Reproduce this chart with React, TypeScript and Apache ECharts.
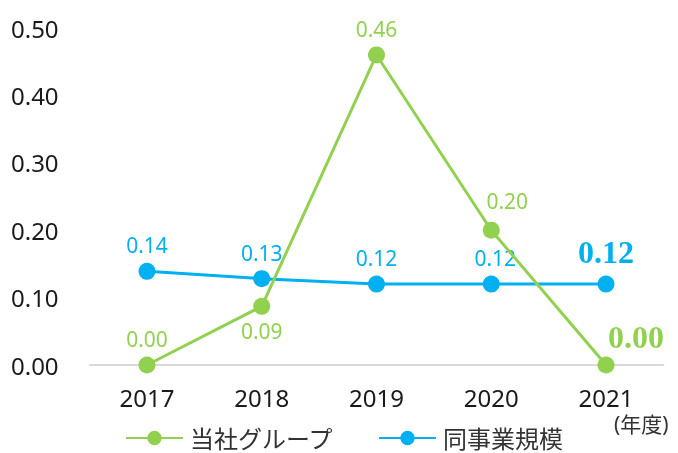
import React, { useEffect, useRef } from "react";
import * as echarts from "echarts";

const years = ["2017", "2018", "2019", "2020", "2021"];
const groupValues = [0.0, 0.087, 0.46, 0.2, 0.0];
const peerValues = [0.139, 0.128, 0.12, 0.12, 0.12];
const groupName = "当社グループ";
const peerName = "同事業規模";

const GREEN = "#92D050";
const BLUE = "#00B0F0";
const FONT = "'Noto Sans', 'Noto Sans CJK JP', sans-serif";

export default function App() {
  const ref = useRef<HTMLDivElement>(null);
  useEffect(() => {
    if (!ref.current) return;
    const chart = echarts.init(ref.current, undefined, { renderer: "svg" });
    const last = years.length - 1;
    const groupData = groupValues.map((v, i) => {
      const item: any = { value: v };
      if (i === 1) item.label = { position: "bottom", distance: 6 };
      if (i === 3) item.label = { offset: [16, -3] };
      if (i === last)
        item.label = {
          fontFamily: "'Liberation Serif', serif",
          fontWeight: "bold",
          fontSize: 32,
          distance: 8,
          offset: [30, 4],
        };
      return item;
    });
    const peerData = peerValues.map((v, i) => {
      const item: any = { value: v };
      if (i === 3) item.label = { offset: [4, 0] };
      if (i === last)
        item.label = {
          fontFamily: "'Liberation Serif', serif",
          fontWeight: "bold",
          fontSize: 32,
          distance: 8,
          offset: [0, 0],
        };
      return item;
    });
    chart.setOption({
      animation: false,
      textStyle: { fontFamily: FONT },
      grid: { left: 89.6, right: 14.6, top: 28, bottom: 88, containLabel: false },
      legend: {
        left: 125,
        top: 426,
        padding: 0,
        itemWidth: 57,
        itemHeight: 18,
        itemGap: 44,
        textStyle: {
          fontSize: 24,
          lineHeight: 24,
          color: "#333",
          fontFamily: FONT,
          padding: [0, 0, 0, 2],
        },
        data: [groupName, peerName],
      },
      xAxis: {
        type: "category",
        data: years,
        boundaryGap: true,
        axisLine: { lineStyle: { color: "#D9D9D9", width: 2 } },
        axisTick: { show: false },
        axisLabel: { fontSize: 24, color: "#1a1a1a", margin: 20, fontFamily: FONT },
      },
      yAxis: {
        type: "value",
        min: 0,
        max: 0.5,
        interval: 0.1,
        splitLine: { show: false },
        axisLine: { show: false },
        axisTick: { show: false },
        axisLabel: {
          fontSize: 24,
          color: "#1a1a1a",
          margin: 31,
          fontFamily: FONT,
          formatter: (v: number) => v.toFixed(2),
        },
      },
      graphic: [
        {
          type: "text",
          left: 614,
          top: 413,
          style: { text: "(年度)", fontSize: 21, fill: "#333", fontFamily: FONT },
        },
      ],
      series: [
        {
          name: groupName,
          type: "line",
          data: groupData,
          symbol: "circle",
          symbolSize: 17,
          itemStyle: { color: GREEN },
          lineStyle: { color: GREEN, width: 3 },
          label: {
            show: true,
            position: "top",
            distance: 7,
            color: GREEN,
            fontSize: 21,
            fontFamily: FONT,
            formatter: (p: any) => Number(p.value).toFixed(2),
          },
          z: 3,
        },
        {
          name: peerName,
          type: "line",
          data: peerData,
          symbol: "circle",
          symbolSize: 17,
          itemStyle: { color: BLUE },
          lineStyle: { color: BLUE, width: 3 },
          label: {
            show: true,
            position: "top",
            distance: 7,
            color: BLUE,
            fontSize: 21,
            fontFamily: FONT,
            formatter: (p: any) => Number(p.value).toFixed(2),
          },
          z: 2,
        },
      ],
    });
    return () => chart.dispose();
  }, []);
  return <div ref={ref} style={{ width: 678, height: 453, position: "fixed", left: 0, top: 0 }} />;
}
